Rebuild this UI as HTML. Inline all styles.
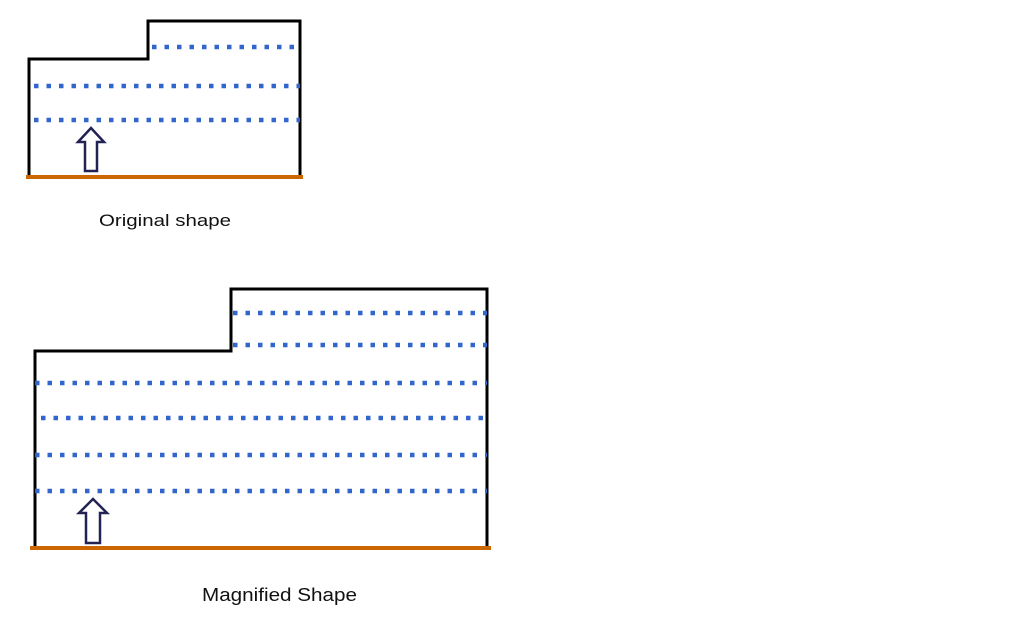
<!DOCTYPE html>
<html><head><style>
html,body{margin:0;padding:0;background:#fff;width:1013px;height:631px;overflow:hidden}
svg{position:absolute;left:0;top:0}
text{font-family:"Liberation Sans",sans-serif;fill:#111}
</style></head><body>
<svg width="1013" height="631">
<g fill="none" stroke-linecap="square">
<polyline points="29,177 29,59 148,59 148,21 300,21 300,177" stroke="#000" stroke-width="3"/>
<line x1="28" y1="177" x2="301" y2="177" stroke="#cc6600" stroke-width="4"/>
<g stroke="#3366cc" stroke-width="4.5" stroke-dasharray="4.5 8" stroke-linecap="butt">
<line x1="152" y1="47" x2="300" y2="47"/>
<line x1="34" y1="86" x2="300" y2="86"/>
<line x1="34" y1="120" x2="300" y2="120"/>
</g>
<polygon points="91,128 104,142 97,142 97,171 85,171 85,142 78,142" stroke="#222255" stroke-width="2.5"/>

<polyline points="35,548 35,351 231,351 231,289 487,289 487,548" stroke="#000" stroke-width="3"/>
<line x1="32" y1="548" x2="489" y2="548" stroke="#cc6600" stroke-width="4"/>
<g stroke="#3366cc" stroke-width="4.5" stroke-dasharray="4.5 8" stroke-linecap="butt">
<line x1="233" y1="313" x2="487" y2="313"/>
<line x1="233" y1="345" x2="487" y2="345"/>
<line x1="35" y1="383" x2="487" y2="383"/>
<line x1="41" y1="418" x2="487" y2="418"/>
<line x1="35" y1="455" x2="487" y2="455"/>
<line x1="35" y1="491" x2="487" y2="491"/>
</g>
<polygon points="93,499 107,513 100,513 100,543 86,543 86,513 79,513" stroke="#222255" stroke-width="2.5"/>
</g>
<text x="99" y="226" font-size="17" textLength="132" lengthAdjust="spacingAndGlyphs">Original shape</text>
<text x="202" y="601" font-size="18" textLength="155" lengthAdjust="spacingAndGlyphs">Magnified Shape</text>
</svg>
</body></html>
